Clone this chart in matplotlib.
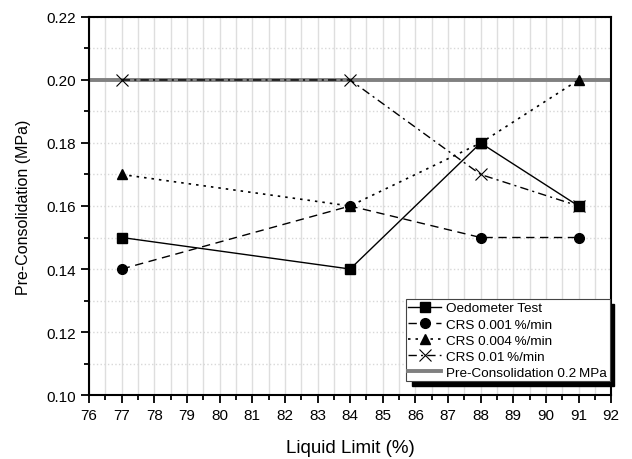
import matplotlib

matplotlib.use("Agg")
import matplotlib.pyplot as plt
from matplotlib.patches import Rectangle
from matplotlib.ticker import MultipleLocator

plt.rcParams.update({"font.family": "Liberation Sans", "font.size": 11})

liquid_limit = [77, 84, 88, 91]
oedometer = [0.15, 0.14, 0.18, 0.16]
crs_0001 = [0.14, 0.16, 0.15, 0.15]
crs_0004 = [0.17, 0.16, 0.18, 0.20]
crs_001 = [0.20, 0.20, 0.17, 0.16]
pre_consolidation = 0.2

fig = plt.figure(figsize=(6.32, 4.6), dpi=100)
ax = fig.add_axes([0.141, 0.139, 0.826, 0.822])

ax.set_xlim(76, 92)
ax.set_ylim(0.10, 0.22)
ax.xaxis.set_major_locator(MultipleLocator(1))
ax.xaxis.set_minor_locator(MultipleLocator(0.5))
ax.yaxis.set_major_locator(MultipleLocator(0.02))
ax.yaxis.set_minor_locator(MultipleLocator(0.01))
ax.yaxis.set_major_formatter(lambda v, pos: f"{v:.2f}")

ax.grid(True, axis="x", which="both", color="#dedede", linewidth=1.0, linestyle="-")
ax.grid(True, axis="y", which="both", color="#d8d8d8", linewidth=1.0, linestyle=":")
ax.set_axisbelow(True)

ax.tick_params(which="major", direction="out", length=6, width=1.3, labelsize=11)
ax.tick_params(which="minor", direction="out", length=3.5, width=1.3)
for s in ax.spines.values():
    s.set_linewidth(1.5)

ax.plot(liquid_limit, oedometer, "k-", marker="s", ms=6.5, lw=1.0, label="Oedometer Test")
ax.plot(liquid_limit, crs_0001, "k", ls=(0, (6, 4)), marker="o", ms=7, lw=1.0,
        label="CRS 0.001\u2009%/min")
ax.plot(liquid_limit, crs_0004, "k", ls=(0, (1.5, 3)), marker="^", ms=7, lw=1.2,
        label="CRS 0.004\u2009%/min")
ax.plot(liquid_limit, crs_001, "k", ls=(0, (6, 3, 1.5, 3)), marker="x", ms=8, lw=1.0,
        mew=0.8, label="CRS 0.01\u2009%/min")
ax.axhline(pre_consolidation, color="#808080", lw=2.8,
           label="Pre-Consolidation 0.2\u2009MPa", zorder=1.5)

leg = ax.legend(loc="lower right", bbox_to_anchor=(0.997, 0.036), fontsize=9.7,
                handlelength=2.45, handletextpad=0.35, labelspacing=0.27,
                borderpad=0.2, borderaxespad=0, fancybox=False, framealpha=1,
                edgecolor="#444444")
leg.get_frame().set_linewidth(0.8)
leg.set_zorder(6)

fig.canvas.draw()
bb = leg.get_frame().get_window_extent()
ax.add_patch(Rectangle((bb.x0 + 6, bb.y0 - 5), bb.width - 2, bb.height,
                       transform=None, color="black", zorder=5.5, clip_on=False))

ax.set_xlabel("Liquid Limit (%)", fontsize=13.5, labelpad=12)
ax.set_ylabel("Pre-Consolidation (MPa)", fontsize=11.5, labelpad=11)

fig.savefig("out.png", dpi=100)
